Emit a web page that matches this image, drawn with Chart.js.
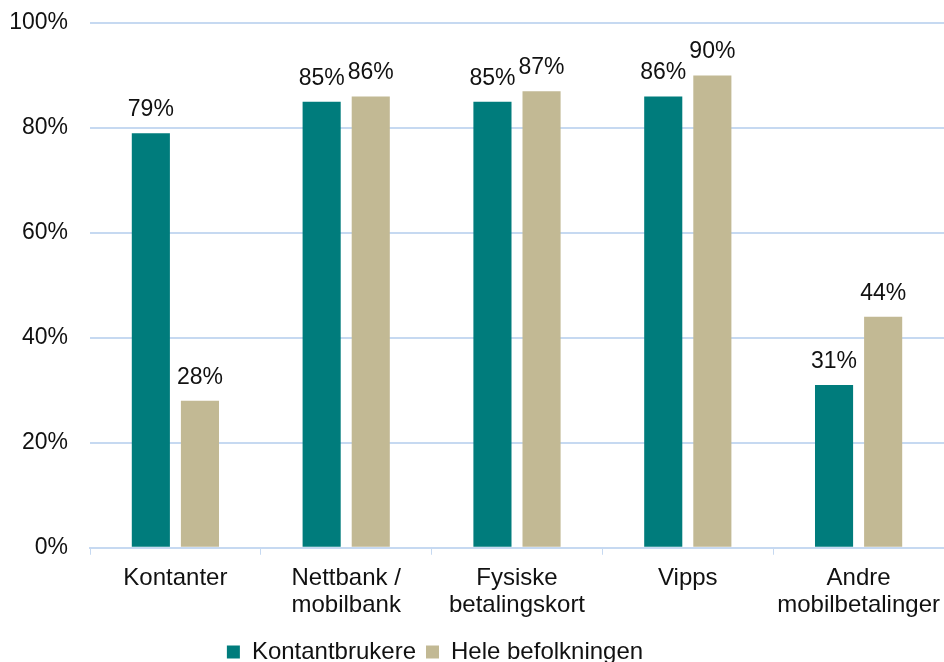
<!DOCTYPE html>
<html>
<head>
<meta charset="utf-8">
<script src="https://cdn.jsdelivr.net/npm/chart.js@4/dist/chart.umd.min.js"></script>
<style>
  html, body { margin: 0; padding: 0; background: #fff; }
  #wrap { width: 944px; height: 662px; }
</style>
</head>
<body>
<div id="wrap"><canvas id="graf"></canvas></div>
<script>
// kategorier og verdier (prosent)
const kategorier = ['Kontanter', ['Nettbank /', 'mobilbank'], ['Fysiske', 'betalingskort'], 'Vipps', ['Andre', 'mobilbetalinger']];
const kontantbrukere = [79, 85, 85, 86, 31];
const heleBefolkningen = [28, 86, 87, 90, 44];
const yTicks = [0, 20, 40, 60, 80, 100];

const FONT = 'Arial, "Liberation Sans", sans-serif';

// tegner prosentetiketter over søylene
const etiketter = {
    id: 'etiketter',
    afterLayout(chart) {
        // legenden står litt til venstre for midten og nær bunnen i originalen
        const lg = chart.legend;
        lg.left -= 41; lg.right -= 41;
        lg.top += 1; lg.bottom += 1;
    },
    afterDatasetsDraw(chart) {
        const ctx = chart.ctx;
        ctx.save();
        ctx.font = '23px ' + FONT;
        ctx.fillStyle = '#111';
        ctx.textAlign = 'center';
        ctx.textBaseline = 'bottom';
        chart.data.datasets.forEach((ds, i) => {
            chart.getDatasetMeta(i).data.forEach((bar, j) => {
                ctx.fillText(ds.data[j] + '%', bar.x, bar.y - 12);
            });
        });
        ctx.restore();
    }
};

new Chart(document.getElementById('graf').getContext('2d'), {
    type: 'bar',
    data: {
        labels: kategorier,
        datasets: [
            { label: 'Kontantbrukere', data: kontantbrukere, backgroundColor: '#007C7C' },
            { label: 'Hele befolkningen', data: heleBefolkningen, backgroundColor: '#C2B994' }
        ]
    },
    options: {
        responsive: true,
        maintainAspectRatio: false,
        animation: false,
        layout: { padding: { top: 23, right: 0, left: 8, bottom: -11 } },
        datasets: { bar: { categoryPercentage: 0.575, barPercentage: 0.776 } },
        plugins: {
            tooltip: { enabled: false },
            legend: {
                position: 'bottom',
                labels: {
                    font: { family: FONT, size: 24 },
                    color: '#111',
                    boxWidth: 13,
                    boxHeight: 13,
                    padding: 10
                }
            }
        },
        scales: {
            x: {
                afterFit(axis) { axis.paddingLeft = 0; axis.paddingRight = 0; },
                grid: { drawOnChartArea: false, drawTicks: true, tickLength: 7, color: '#C6D9F1', offset: true },
                border: { color: '#C6D9F1', width: 2 },
                ticks: { font: { family: FONT, size: 24, lineHeight: 1.13 }, color: '#111', padding: 10, maxRotation: 0 }
            },
            y: {
                min: 0,
                max: 100,
                afterBuildTicks(axis) { axis.ticks = yTicks.map(v => ({ value: v })); },
                afterFit(axis) { axis.width = 82; axis.paddingTop = 0; axis.paddingBottom = 0; },
                grid: { color: '#C6D9F1', lineWidth: 2, drawTicks: false },
                border: { display: false },
                ticks: {
                    font: { family: FONT, size: 23 },
                    color: '#111',
                    padding: 22,
                    callback: v => v + '%'
                }
            }
        }
    },
    plugins: [etiketter]
});
</script>
</body>
</html>
